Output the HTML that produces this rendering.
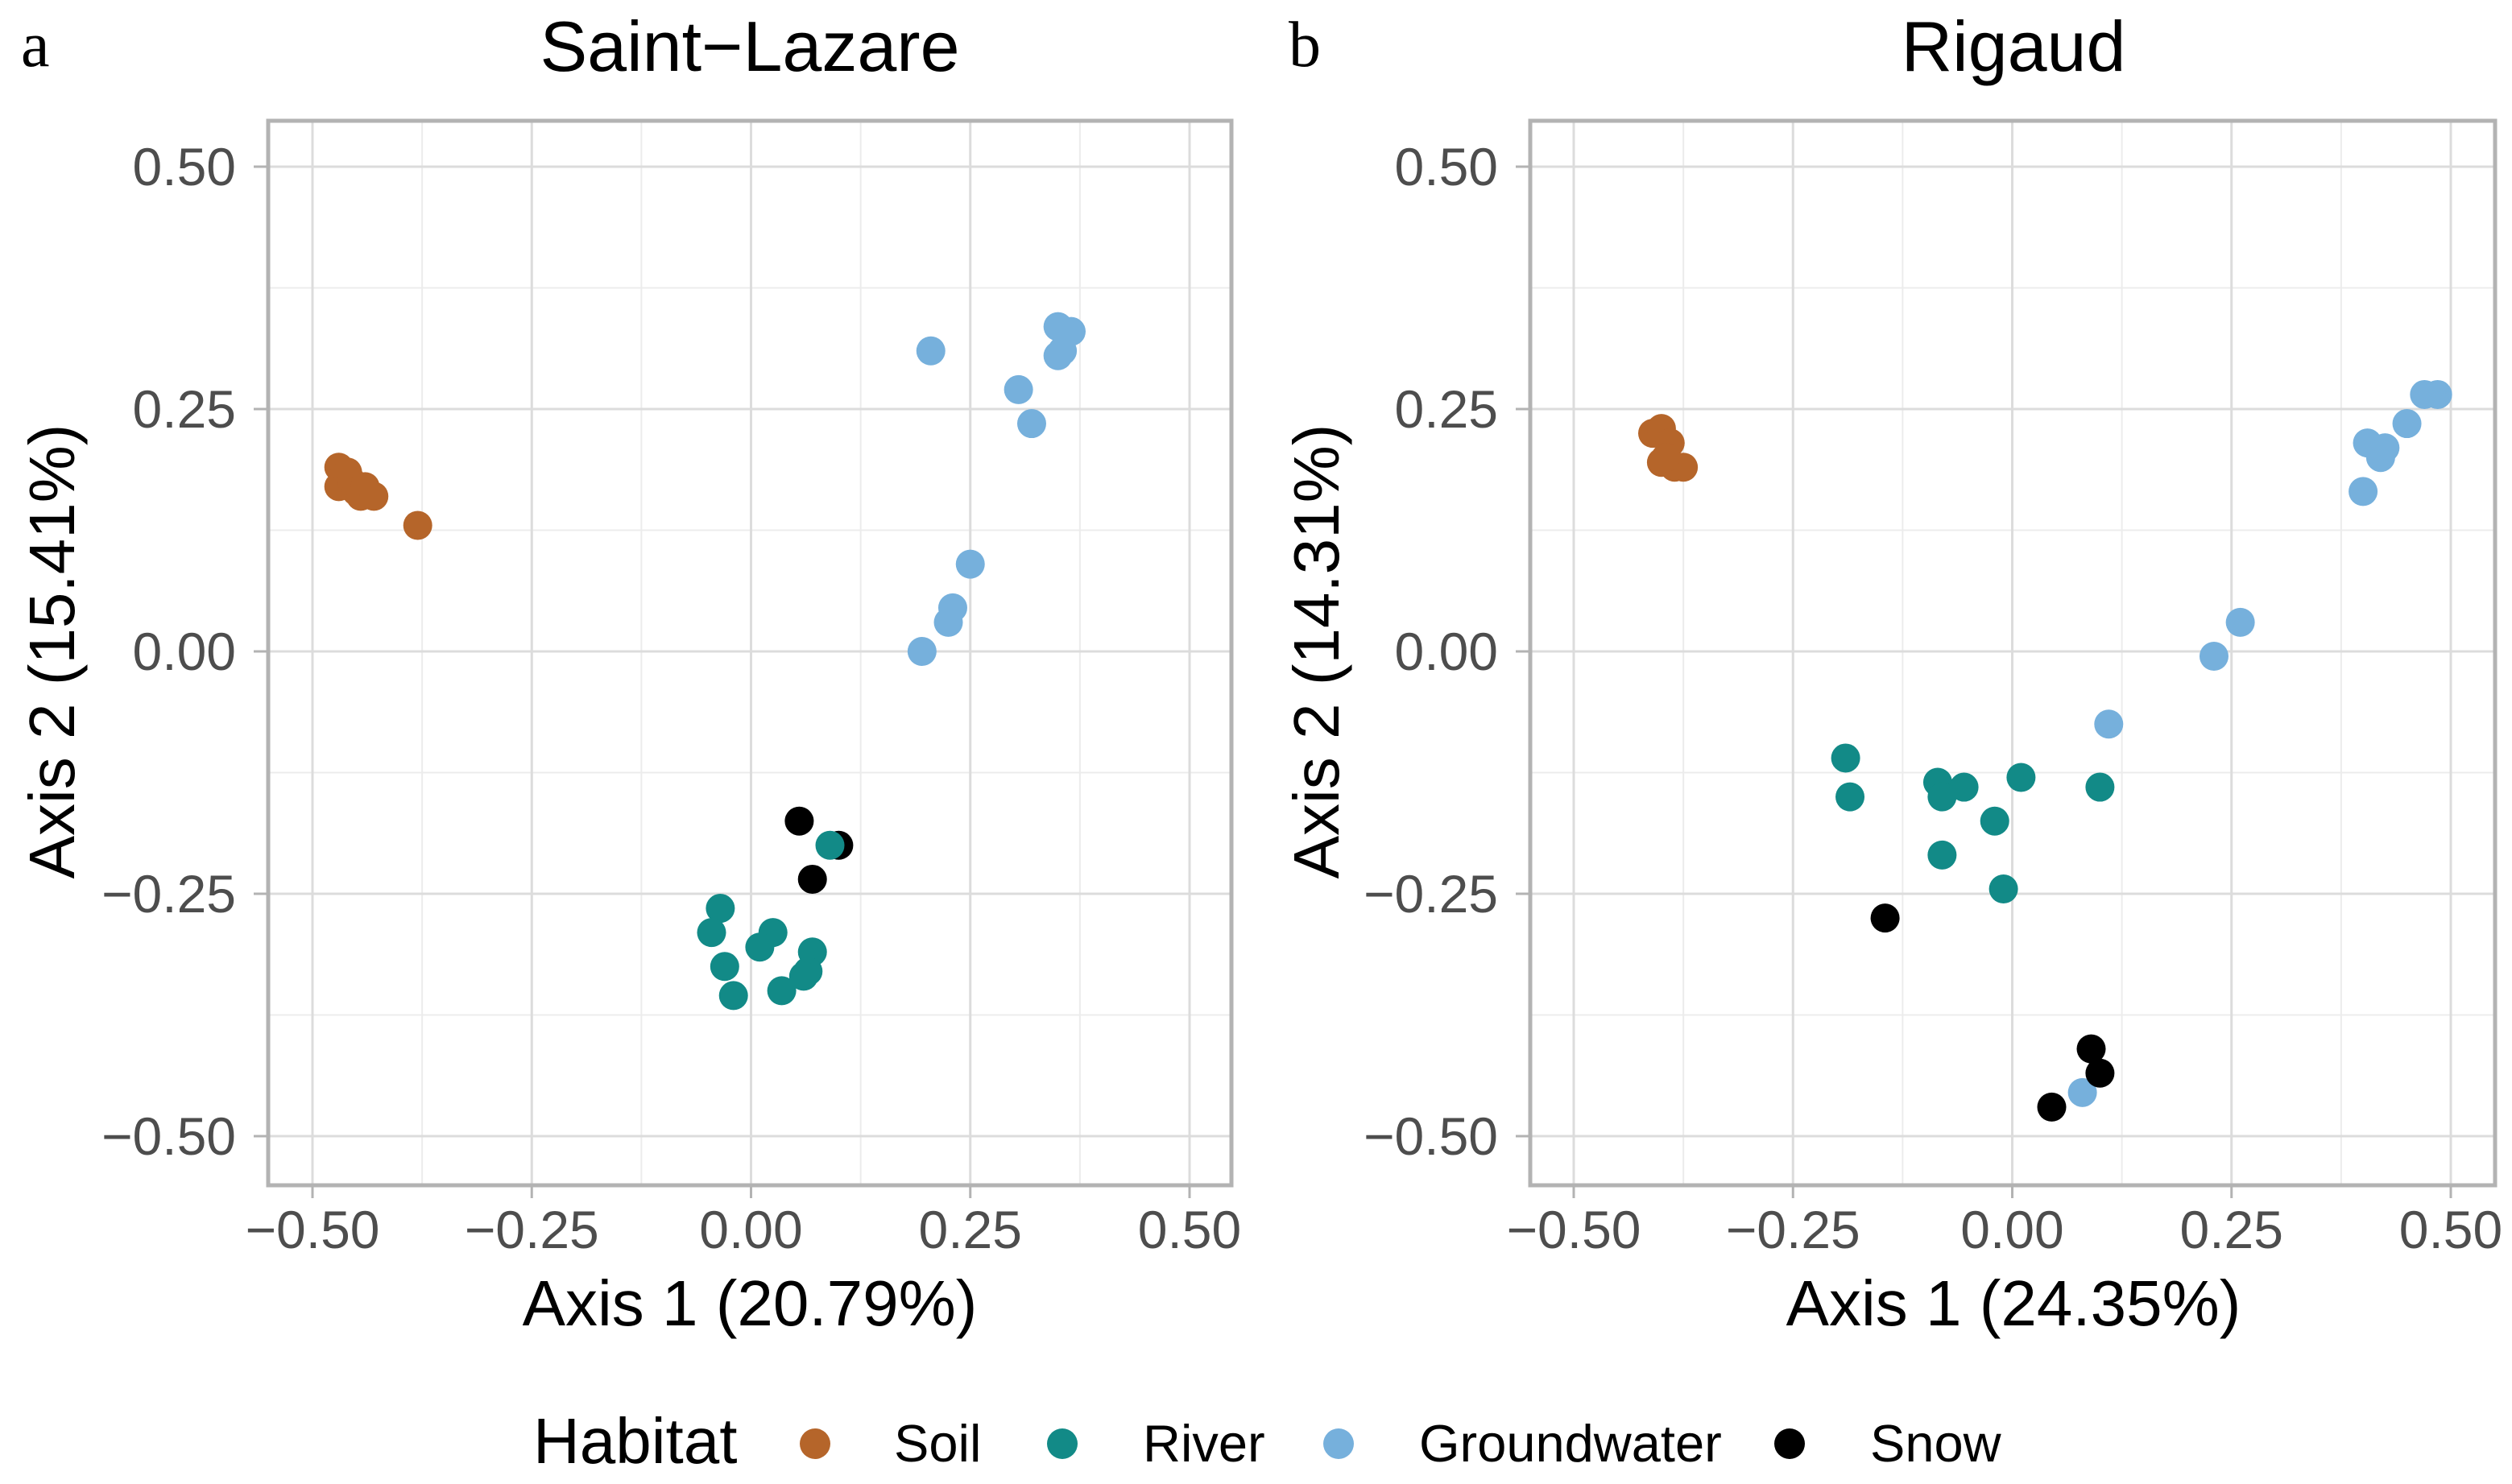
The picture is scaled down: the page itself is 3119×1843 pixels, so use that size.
<!DOCTYPE html>
<html><head><meta charset="utf-8"><style>
html,body{margin:0;padding:0;background:#fff;}
svg{display:block;font-family:"Liberation Sans",sans-serif;}
</style></head><body>
<svg id="chart" width="3119" height="1843" viewBox="0 0 3119 1843" xmlns="http://www.w3.org/2000/svg">
<g id="legend">
<text x="662" y="1817" font-size="80">Habitat</text>
<circle cx="1012" cy="1793" r="19" fill="#b5652a"/>
<text x="1110" y="1815" font-size="65">Soil</text>
<circle cx="1319" cy="1793" r="19" fill="#128a87"/>
<text x="1419" y="1815" font-size="65">River</text>
<circle cx="1662" cy="1793" r="19" fill="#76b0dc"/>
<text x="1762" y="1815" font-size="65">Groundwater</text>
<circle cx="2222" cy="1793" r="19" fill="#000"/>
<text x="2322" y="1815" font-size="65">Snow</text>
</g>
</svg>
<script>
const ticks = [-0.5, -0.25, 0, 0.25, 0.5];
const tickLabels = ["\u22120.50", "\u22120.25", "0.00", "0.25", "0.50"];
const habitats = ["Soil", "Groundwater", "Snow", "River"];
const habitatColors = {Soil:"#b5652a", River:"#128a87", Groundwater:"#76b0dc", Snow:"#000000"};

const aSoilX = [-0.47,-0.465,-0.47,-0.46,-0.455,-0.45,-0.445,-0.44,-0.43,-0.38];
const aSoilY = [0.19,0.18,0.17,0.185,0.175,0.165,0.16,0.17,0.16,0.13];
const aGroundX = [0.205,0.305,0.32,0.35,0.36,0.365,0.35,0.355,0.25,0.23,0.225,0.195];
const aGroundY = [0.31,0.27,0.235,0.335,0.33,0.33,0.305,0.31,0.09,0.045,0.03,0.0];
const aSnowX = [0.055,0.1,0.07];
const aSnowY = [-0.175,-0.2,-0.235];
const aRiverX = [0.09,-0.035,-0.045,0.025,0.01,-0.03,-0.02,0.035,0.07,0.065,0.06];
const aRiverY = [-0.2,-0.265,-0.29,-0.29,-0.305,-0.325,-0.355,-0.35,-0.31,-0.33,-0.335];

const bSoilX = [-0.41,-0.4,-0.39,-0.4,-0.385,-0.375,-0.395];
const bSoilY = [0.225,0.23,0.215,0.195,0.19,0.19,0.2];
const bGroundX = [0.4,0.405,0.42,0.425,0.45,0.47,0.485,0.23,0.26,0.11,0.08];
const bGroundY = [0.165,0.215,0.2,0.21,0.235,0.265,0.265,-0.005,0.03,-0.075,-0.455];
const bSnowX = [-0.145,0.09,0.1,0.045];
const bSnowY = [-0.275,-0.41,-0.435,-0.47];
const bRiverX = [-0.19,-0.185,-0.085,-0.08,-0.055,0.01,0.1,-0.02,-0.08,-0.01];
const bRiverY = [-0.11,-0.15,-0.135,-0.15,-0.14,-0.13,-0.14,-0.175,-0.21,-0.245];

const NS = "http://www.w3.org/2000/svg";
const svg = document.getElementById("chart");
function mk(tag, attrs, parent){
  const e = document.createElementNS(NS, tag);
  for (const k in attrs) e.setAttribute(k, attrs[k]);
  (parent||svg).appendChild(e);
  return e;
}

function panel(cfg){
  const g = mk("g", {});
  
  
  const x0 = cfg.left, x1 = cfg.right, y0 = 150, y1 = 1472;
  const sx = v => cfg.zx + 1089 * v;
  const sy = v => 809 - 1204 * v;
  for (let i = -4; i <= 4; i++) {
    if (i % 2 === 0) continue;
    const v = i * 0.125;
    const lx = mk("line", {x1:sx(v), x2:sx(v), y1:y0, y2:y1, stroke:"#ececec", "stroke-width":2}, g);
    
    
    const ly = mk("line", {x1:x0, x2:x1, y1:sy(v), y2:sy(v), stroke:"#ececec", "stroke-width":2}, g);
    
    
  }
  ticks.forEach((v, i) => {
    const lx = mk("line", {x1:sx(v), x2:sx(v), y1:y0, y2:y1, stroke:"#dcdcdc", "stroke-width":3}, g);
    
    
    const ly = mk("line", {x1:x0, x2:x1, y1:sy(v), y2:sy(v), stroke:"#dcdcdc", "stroke-width":3}, g);
    
    
    const tx = mk("line", {x1:sx(v), x2:sx(v), y1:y1, y2:y1+16, stroke:"#b3b3b3", "stroke-width":3}, g);
    
    
    const ty = mk("line", {x1:x0-18, x2:x0, y1:sy(v), y2:sy(v), stroke:"#b3b3b3", "stroke-width":3}, g);
    
    
    const xl = mk("text", {x:sx(v), y:1550, "font-size":66, fill:"#4d4d4d", "text-anchor":"middle"}, g);
    xl.textContent = tickLabels[i];
    
    
    const yl = mk("text", {x:x0-40, y:sy(v)+23, "font-size":66, fill:"#4d4d4d", "text-anchor":"end"}, g);
    yl.textContent = tickLabels[i];
    
    
  });
  const border = mk("rect", {x:x0, y:y0, width:x1-x0, height:y1-y0, fill:"none", stroke:"#b3b3b3", "stroke-width":5}, g);
  
  
  habitats.forEach(h => {
    const xs = cfg.data[h][0], ys = cfg.data[h][1];
    xs.forEach((xv, j) => {
      const c = mk("circle", {cx:sx(xv), cy:sy(ys[j]), r:18, fill:habitatColors[h]}, g);
      
      
    });
  });
  const t = mk("text", {x:cfg.center, y:88, "font-size":88, "text-anchor":"middle"}, g);
  t.textContent = cfg.title;
  
  
  const lt = mk("text", {x:cfg.letterX, y:82, "font-size":80, "font-family":"Liberation Serif, serif"}, g);
  lt.textContent = cfg.letter;
  
  
  const xt = mk("text", {x:cfg.center, y:1646, "font-size":80, "text-anchor":"middle"}, g);
  xt.textContent = cfg.xTitle;
  
  
  const yt = mk("text", {x:0, y:0, "font-size":80, "text-anchor":"middle", transform:"translate(" + cfg.yTitleX + ",809) rotate(-90)"}, g);
  yt.textContent = cfg.yTitle;
  
  
}

panel({key:"saint-lazare", left:333, right:1529, zx:932.5, center:931, title:"Saint\u2212Lazare", letter:"a", letterX:26,
  xTitle:"Axis 1 (20.79%)", yTitle:"Axis 2 (15.41%)", yTitleX:92,
  data:{Soil:[aSoilX,aSoilY], Groundwater:[aGroundX,aGroundY], Snow:[aSnowX,aSnowY], River:[aRiverX,aRiverY]}});
panel({key:"rigaud", left:1900, right:3098, zx:2498.5, center:2500, title:"Rigaud", letter:"b", letterX:1600,
  xTitle:"Axis 1 (24.35%)", yTitle:"Axis 2 (14.31%)", yTitleX:1662,
  data:{Soil:[bSoilX,bSoilY], Groundwater:[bGroundX,bGroundY], Snow:[bSnowX,bSnowY], River:[bRiverX,bRiverY]}});
</script>
</body></html>
